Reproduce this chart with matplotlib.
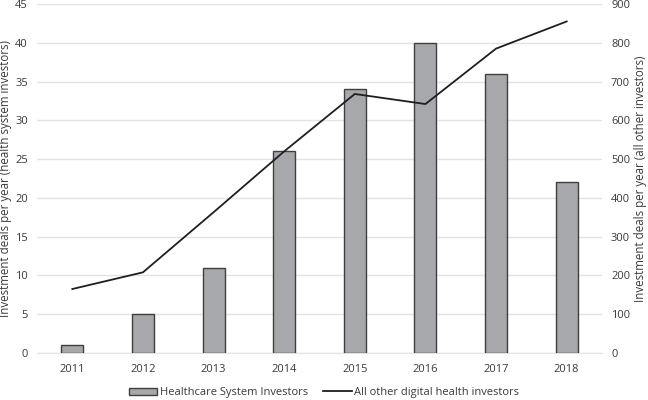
import numpy as np
import matplotlib
matplotlib.use("Agg")
import matplotlib.pyplot as plt

# data
years = ['2011', '2012', '2013', '2014', '2015', '2016', '2017', '2018']
health_system = [1, 5, 11, 26, 34, 40, 36, 22]
all_other = [165, 208, 363, 520, 668, 642, 785, 855]

plt.rcParams['font.family'] = ['Open Sans', 'DejaVu Sans']
txt = '#3a3a3a'
grid = '#e3e3e3'

fig = plt.figure(figsize=(6.48, 4.0), dpi=100)
ax = fig.add_axes([37 / 648, 47 / 400, 565 / 648, 349 / 400])
ax2 = ax.twinx()

x = np.arange(len(years))
bars = ax.bar(x, health_system, width=0.31, color='#a7a8ab', edgecolor='#3f3f3f',
              linewidth=1.0, label='Healthcare System Investors', zorder=3)
line, = ax2.plot(x, all_other, color='#1f1f1f', linewidth=1.3,
                 label='All other digital health investors', zorder=4)

ax.set_xlim(-0.5, len(years) - 0.5)
ax.set_ylim(0, 45)
ax.set_yticks(range(0, 46, 5))
ax2.set_ylim(0, 900)
ax2.set_yticks(range(0, 901, 100))
ax.set_xticks(x)
ax.set_xticklabels(years)

ax.grid(axis='y', color=grid, linewidth=1.0, zorder=0)
ax.set_axisbelow(True)
for a in (ax, ax2):
    for s in a.spines.values():
        s.set_visible(False)
    a.tick_params(length=0, labelsize=8, colors=txt)
ax.spines['bottom'].set_visible(True)
ax.spines['bottom'].set_color(grid)
ax.tick_params(axis='y', pad=6.5)
ax2.tick_params(axis='y', pad=6.5)
ax.tick_params(axis='x', pad=8)

ax.set_ylabel('Investment deals per year (health system investors)', fontsize=8.3,
              color=txt)
ax2.set_ylabel('Investment deals per year (all other investors)', fontsize=8.3,
               color=txt)
ax.yaxis.set_label_coords((12 - 37) / 565, 0.5)
ax2.yaxis.set_label_coords((634 - 37) / 565, 0.5)

fig.legend([bars, line], [bars.get_label(), line.get_label()], loc='center',
           bbox_to_anchor=(0.5, 0.018), ncol=2, frameon=False, fontsize=8,
           handlelength=2.6, handleheight=0.7, columnspacing=1.4,
           handletextpad=0.2, labelcolor=txt)

fig.savefig('out.png', dpi=100)
